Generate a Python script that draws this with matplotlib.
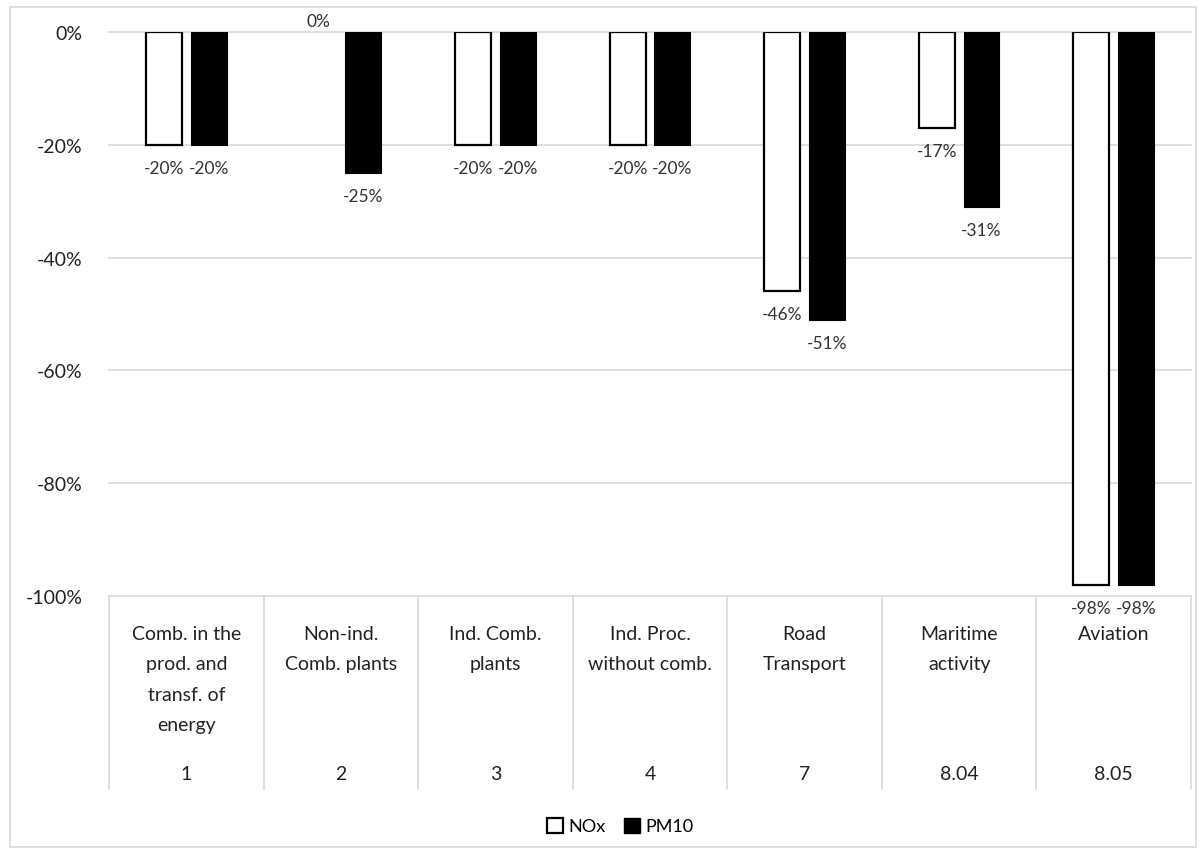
import matplotlib
matplotlib.use("Agg")
import matplotlib.pyplot as plt
import numpy as np
from matplotlib.patches import Rectangle, Patch

categories = ["Comb. in the\nprod. and\ntransf. of\nenergy", "Non-ind.\nComb. plants",
              "Ind. Comb.\nplants", "Ind. Proc.\nwithout comb.", "Road\nTransport",
              "Maritime\nactivity", "Aviation"]
codes = ["1", "2", "3", "4", "7", "8.04", "8.05"]
nox = [-0.20, 0.0, -0.20, -0.20, -0.46, -0.17, -0.98]
pm10 = [-0.20, -0.25, -0.20, -0.20, -0.51, -0.31, -0.98]
yticks = [0, -0.2, -0.4, -0.6, -0.8, -1.0]

plt.rcParams['font.family'] = ['Lato', 'DejaVu Sans']

fig = plt.figure(figsize=(12, 8.54), dpi=100)
ax = fig.add_axes([109/1200, 1-597/854, 1082/1200, 564/854])

# outer border
fig.patches.append(Rectangle((10/1200, 1-848/854), 1186/1200, 840/854,
                             transform=fig.transFigure, fill=False,
                             edgecolor='#d9d9d9', linewidth=1.2))

x = np.arange(len(categories))
w = 0.232
off = 0.145
b1 = ax.bar(x - off, nox, w, color='white', edgecolor='black', linewidth=1.6, label='NOx', zorder=3)
b2 = ax.bar(x + off, pm10, w, color='black', edgecolor='black', linewidth=0.8, label='PM10', zorder=3)
for p in list(b1) + list(b2):
    if p.get_height() == 0:
        p.set_linewidth(0)

ax.set_xlim(-0.5, len(categories) - 0.5)
ax.set_ylim(-1.0, 0.0)
ax.set_yticks(yticks)
ax.set_yticklabels([f"{int(round(v*100))}%" for v in yticks], fontsize=14)
ax.tick_params(axis='y', length=0, pad=19, labelcolor='#222222')
ax.set_xticks([])
for s in ax.spines.values():
    s.set_visible(False)
for v in yticks:
    ax.axhline(v, color='#d9d9d9', linewidth=1.2, zorder=1, clip_on=False)

def lab(xs, vals):
    for xi, v in zip(xs, vals):
        txt = f"{int(round(v*100))}%"
        dy = 8 if v == 0 else -16.5
        ax.annotate(txt, (xi, v), xytext=(0, dy), textcoords='offset points',
                    ha='center', va='center', fontsize=12.5, color='#333333',
                    annotation_clip=False, zorder=5)

lab(x - off, nox)
lab(x + off, pm10)

# category table below
bt = ax.get_xaxis_transform()
ybot = -193/564
for xb in np.arange(-0.5, len(categories), 1.0):
    ax.plot([xb, xb], [0, ybot], transform=bt, color='#d9d9d9', linewidth=1.2, clip_on=False)
for xi, c, code in zip(x, categories, codes):
    ax.text(xi, -29/564, c, transform=bt, ha='center', va='top', fontsize=14,
            linespacing=1.95, color='#222222')
    ax.text(xi, -178/564, code, transform=bt, ha='center', va='center', fontsize=14,
            color='#222222')

handles = [Patch(facecolor='white', edgecolor='black', linewidth=1.6, label='NOx'),
           Patch(facecolor='black', edgecolor='black', label='PM10')]
fig.legend(handles=handles, loc='center', bbox_to_anchor=(620/1200, 1-827/854),
           ncol=2, frameon=False, fontsize=13, handlelength=0.9, handleheight=0.9,
           handletextpad=0.3, columnspacing=1.0)

fig.savefig("out.png", dpi=100)
